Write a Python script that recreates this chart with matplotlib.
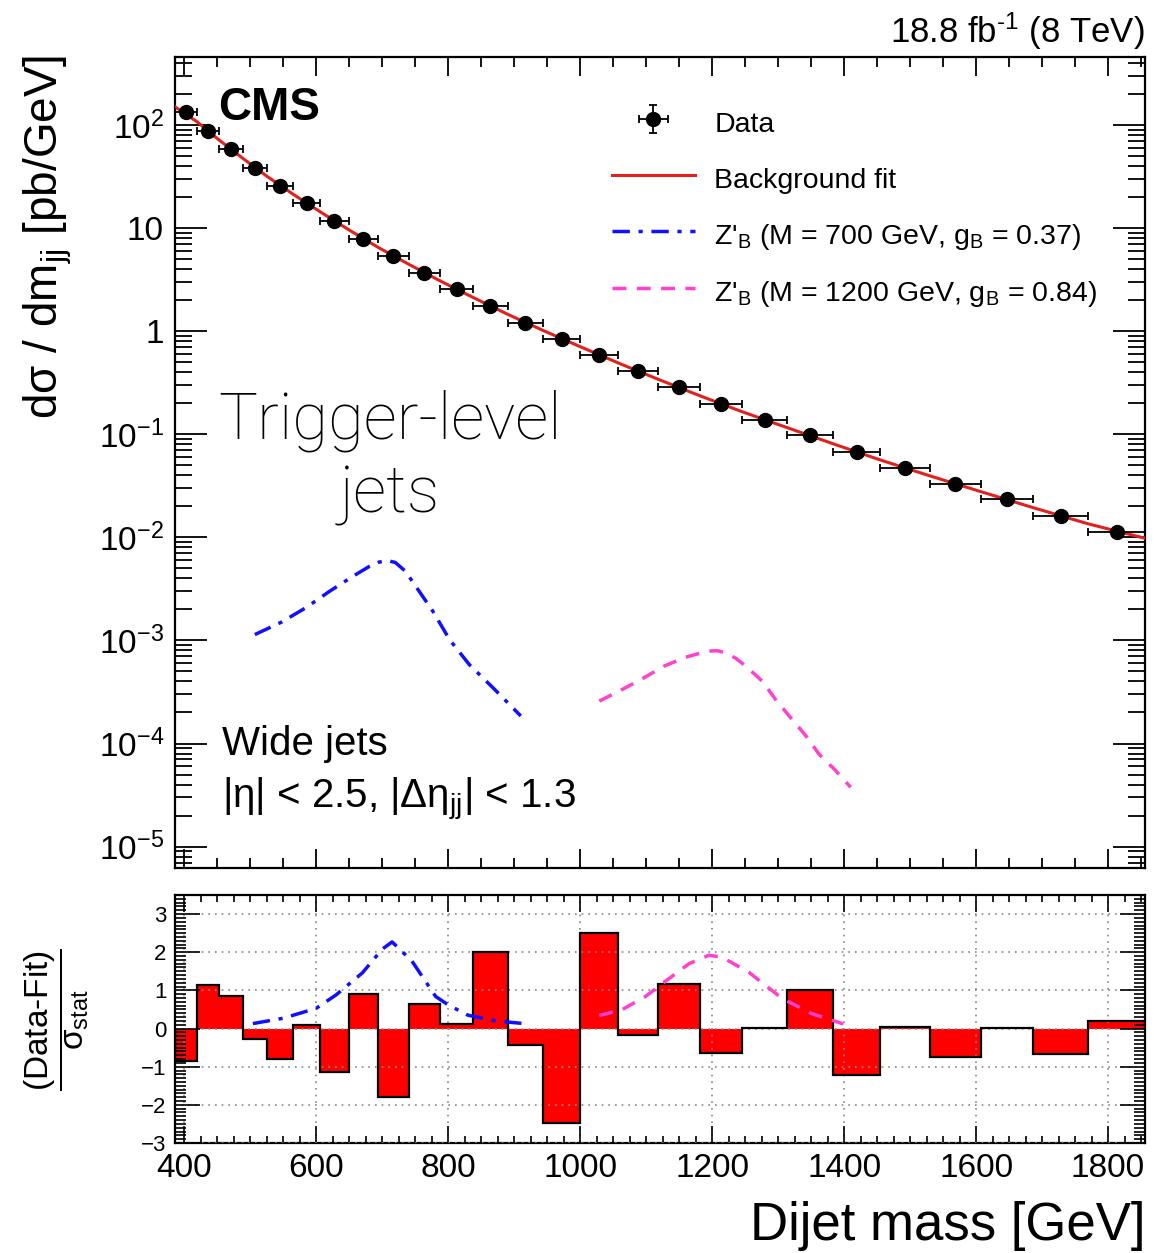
import numpy as np
import matplotlib
matplotlib.use("Agg")
import matplotlib.pyplot as plt
from matplotlib.ticker import MultipleLocator, FixedLocator, LogLocator, FuncFormatter, NullFormatter

plt.rcParams['font.family'] = ['Liberation Sans', 'DejaVu Sans']
plt.rcParams['mathtext.fontset'] = 'custom'
plt.rcParams['mathtext.rm'] = 'Liberation Sans'
plt.rcParams['mathtext.it'] = 'Liberation Sans:italic'
plt.rcParams['mathtext.bf'] = 'Liberation Sans:bold'

# ---------------- data ----------------
bin_edges = [386, 419, 453, 489, 526, 565, 606, 649, 693, 740, 788, 838, 890, 944,
             1000, 1058, 1118, 1181, 1246, 1313, 1383, 1455, 1530, 1607, 1687, 1770, 1856]
data_xsec = [134, 87.5, 58.2, 38.6, 25.9, 17.5, 11.8, 7.92, 5.42, 3.69, 2.55, 1.757, 1.213,
             0.849, 0.590, 0.408, 0.286, 0.196, 0.139, 0.0975, 0.0673, 0.0471, 0.0332,
             0.0233, 0.0161, 0.01135]
data_yerr = [1.2, 0.8, 0.55, 0.37, 0.25, 0.17, 0.12, 0.08, 0.055, 0.038, 0.027, 0.019, 0.013,
             0.0095, 0.0068, 0.0048, 0.0035, 0.0025, 0.0018, 0.0013, 0.0009, 0.00066,
             0.00048, 0.00035, 0.00025, 0.00019]
fit_mass = bin_edges
fit_xsec = [150, 108, 71.4, 47.4, 31.6, 21.3, 14.4, 9.67, 6.55, 4.47, 3.07, 2.12, 1.46, 1.015,
            0.708, 0.491, 0.342, 0.237, 0.165, 0.1164, 0.081, 0.0563, 0.0395, 0.0278,
            0.01937, 0.01352, 0.0098]

sig700_mass = [507, 547, 585, 620, 655, 680, 695, 708, 720, 735, 751, 777, 802, 832, 868, 910]
sig700_xsec = [1.14e-3, 1.5e-3, 2.09e-3, 2.99e-3, 4.17e-3, 5.2e-3, 5.75e-3, 5.96e-3, 5.7e-3,
               4.7e-3, 3.34e-3, 1.91e-3, 1.02e-3, 5.83e-4, 3.47e-4, 1.85e-4]
sig1200_mass = [1029, 1064, 1097, 1127, 1160, 1193, 1208, 1221, 1236, 1251, 1276, 1296, 1319,
                1342, 1362, 1385, 1410]
sig1200_xsec = [2.58e-4, 3.35e-4, 4.35e-4, 5.63e-4, 6.88e-4, 7.87e-4, 7.95e-4, 7.57e-4, 6.7e-4,
                5.63e-4, 4.03e-4, 2.68e-4, 1.78e-4, 1.19e-4, 7.88e-5, 5.65e-5, 3.76e-5]

pull = [-0.85, 1.13, 0.86, -0.27, -0.8, 0.1, -1.15, 0.9, -1.8, 0.64, 0.13, 2.0, -0.42,
        -2.48, 2.5, -0.17, 1.17, -0.65, 0.02, 1.0, -1.23, 0.03, -0.75, 0.02, -0.67, 0.2]

sig700_pull_mass = [504, 550, 600, 630, 670, 700, 715, 745, 781, 800, 830, 872, 915]
sig700_pull = [0.13, 0.27, 0.53, 0.88, 1.46, 2.08, 2.27, 1.77, 0.84, 0.62, 0.35, 0.2, 0.13]
sig1200_pull_mass = [1029, 1064, 1099, 1130, 1165, 1195, 1215, 1256, 1306, 1351, 1399]
sig1200_pull = [0.34, 0.5, 0.84, 1.25, 1.7, 1.92, 1.87, 1.47, 0.79, 0.39, 0.12]

log_tick_labels = {1e-5: r'$10^{-5}$', 1e-4: r'$10^{-4}$', 1e-3: r'$10^{-3}$',
                   1e-2: r'$10^{-2}$', 1e-1: r'$10^{-1}$', 1.0: '1', 10.0: '10', 100.0: r'$10^{2}$'}

# ---------------- figure ----------------
W, H = 1154, 1253
fig = plt.figure(figsize=(W / 100, H / 100), dpi=100)
L, R = 175 / W, 1145 / W
ax1 = fig.add_axes([L, 1 - 868 / H, R - L, (868 - 57) / H])
ax2 = fig.add_axes([L, 1 - 1143 / H, R - L, (1143 - 895) / H])

edges = np.array(bin_edges, dtype=float)
centers = 0.5 * (edges[:-1] + edges[1:])
half_w = 0.5 * np.diff(edges)

blue = '#1010ff'
pink = '#ff40d0'

# top panel
fitline, = ax1.plot(fit_mass, fit_xsec, color='#e3201b', lw=2.2, zorder=3)
eb = ax1.errorbar(centers, data_xsec, xerr=half_w, yerr=data_yerr, fmt='o', color='black',
                  ms=10, elinewidth=1.3, capsize=3, capthick=1.3, zorder=4)
l700, = ax1.plot(sig700_mass, sig700_xsec, color=blue, lw=2.5, dashes=(5, 2.5, 1.2, 2.5))
l1200, = ax1.plot(sig1200_mass, sig1200_xsec, color=pink, lw=2.5, dashes=(4, 3))
ax1.set_yscale('log')
ax1.set_xlim(386, 1856)
ax1.set_ylim(6.2e-6, 457)

ax1.yaxis.set_major_locator(FixedLocator(list(log_tick_labels.keys())))
ax1.yaxis.set_major_formatter(FuncFormatter(lambda v, p: log_tick_labels.get(float(v), '')))
ax1.yaxis.set_minor_locator(LogLocator(base=10, subs=np.arange(2, 10), numticks=30))
ax1.yaxis.set_minor_formatter(NullFormatter())
ax1.xaxis.set_major_locator(MultipleLocator(200))
ax1.xaxis.set_minor_locator(MultipleLocator(50))
ax1.tick_params(axis='x', which='both', labelbottom=False)
ax1.tick_params(axis='both', which='both', direction='in', top=True, right=True, width=1.3)
ax1.tick_params(axis='y', which='major', length=23, labelsize=24, pad=8)
ax1.tick_params(axis='y', which='minor', length=12)
ax1.tick_params(axis='x', which='major', length=14)
ax1.tick_params(axis='x', which='minor', length=7)
for s in ax1.spines.values():
    s.set_linewidth(1.6)

leg = ax1.legend(handles=[eb, fitline, l700, l1200],
                 labels=['Data', 'Background fit', r"Z'$_{\rm B}$ (M = 700 GeV, g$_{\rm B}$ = 0.37)",
                         r"Z'$_{\rm B}$ (M = 1200 GeV, g$_{\rm B}$ = 0.84)"],
                 loc='upper left', bbox_to_anchor=((612 - 175) / 970, (868 - 106) / 811),
                 frameon=False, fontsize=20.5, handlelength=2.9, handleheight=1.4,
                 handletextpad=0.7, labelspacing=0.81, borderpad=0, borderaxespad=0)

ax1.text((218 - 175) / 970, (868 - 120) / 811, 'CMS', transform=ax1.transAxes,
         fontsize=33, fontweight='bold', ha='left', va='baseline')
ax1.text((390 - 175) / 970, (868 - 438) / 811, 'Trigger-level', transform=ax1.transAxes,
         fontsize=47, family=['Roboto', 'DejaVu Sans'], fontweight='light', ha='center', va='baseline')
ax1.text((390 - 175) / 970, (868 - 512) / 811, 'jets', transform=ax1.transAxes,
         fontsize=47, family=['Roboto', 'DejaVu Sans'], fontweight='light', ha='center', va='baseline')
ax1.text((222 - 175) / 970, (868 - 755) / 811, 'Wide jets', transform=ax1.transAxes,
         fontsize=29, ha='left', va='baseline')
ax1.text((222 - 175) / 970, (868 - 808) / 811, r'|η| < 2.5, |Δη$_{\rm jj}$| < 1.3',
         transform=ax1.transAxes, fontsize=29, ha='left', va='baseline')

fig.text(R, 1 - 43 / H, r'18.8 fb$^{\text{-1}}$ (8 TeV)', fontsize=25, ha='right', va='baseline')
fig.text(48 / W, 1 - 55 / H, r'dσ / dm$_{\rm jj}$ [pb/GeV]', rotation=90, fontsize=33,
         ha='center', va='top')

# bottom panel
ax2.bar(edges[:-1], pull, width=np.diff(edges), align='edge', color='#ff0000', lw=0, zorder=2)
ax2.stairs(pull, edges, baseline=0, color='black', lw=1.6, zorder=3)
ax2.plot(sig700_pull_mass, sig700_pull, color=blue, lw=2.5, dashes=(5, 2.5, 1.2, 2.5), zorder=4)
ax2.plot(sig1200_pull_mass, sig1200_pull, color=pink, lw=2.5, dashes=(4, 3), zorder=4)
ax2.set_xlim(386, 1856)
ax2.set_ylim(-3, 3.5)
ax2.yaxis.set_major_locator(MultipleLocator(1))
ax2.yaxis.set_minor_locator(MultipleLocator(0.1))
ax2.xaxis.set_major_locator(MultipleLocator(200))
ax2.xaxis.set_minor_locator(MultipleLocator(25))
ax2.grid(True, which='major', color='#888888', linestyle=(0, (1, 3)), lw=1.2, zorder=5)
ax2.set_axisbelow(False)
ax2.tick_params(axis='both', which='both', direction='in', top=True, right=True, width=1.2)
ax2.tick_params(axis='y', which='major', length=18, labelsize=16, pad=6)
ax2.tick_params(axis='y', which='minor', length=8)
ax2.tick_params(axis='x', which='major', length=12, labelsize=24, pad=7)
ax2.tick_params(axis='x', which='minor', length=5)
for s in ax2.spines.values():
    s.set_linewidth(1.6)

fig.text(57 / W, 1 - 1020 / H, r'$\dfrac{\text{(Data-Fit)}}{\text{σ}_{\text{stat}}}$',
         rotation=90, fontsize=24, ha='center', va='center')
fig.text(R, 1 - 1240 / H, 'Dijet mass [GeV]', fontsize=38, ha='right', va='baseline')

fig.savefig('out.png', dpi=100)
